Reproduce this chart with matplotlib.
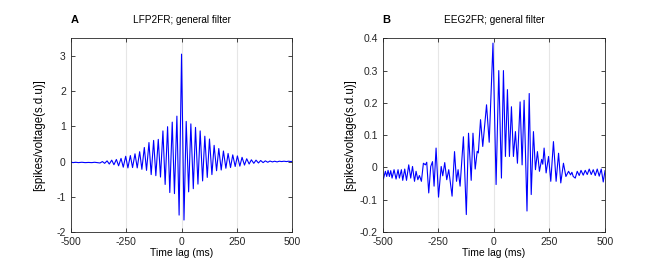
import numpy as np
import matplotlib
matplotlib.use('Agg')
import matplotlib.pyplot as plt

plt.rcParams['font.family'] = ['Liberation Sans', 'DejaVu Sans']
plt.rcParams['axes.unicode_minus'] = False

# ---- panel A: LFP2FR (extrema) ----
lfp_lag = [-500, -490, -478, -465, -450, -435, -420, -405, -392, -380,
           -368, -357, -347, -336, -326, -315, -305, -294, -284, -273, -263, -252,
           -242, -231, -221, -210, -200, -189, -179, -168, -158, -147, -137, -126,
           -116, -105, -95, -84, -74, -63, -53, -42, -32, -21, -11,
           0,
           11, 21, 32, 42, 53, 63, 74, 84, 95, 105, 116, 126, 137, 147, 158, 168,
           179, 189, 200, 210, 221, 231, 242, 252, 263, 273, 284, 294, 305, 315,
           326, 336, 347, 357, 368,
           378, 389, 399, 410, 420, 431, 441, 452, 462, 473, 483, 494, 500]
lfp_val = [-0.01, -0.03, -0.02, -0.03, -0.02, -0.03, -0.025, -0.03, -0.02, -0.03,
           -0.04, 0.0, -0.05, 0.02, -0.07, 0.04, -0.09, 0.06, -0.12, 0.09, -0.16, 0.15,
           -0.18, 0.17, -0.17, 0.22, -0.18, 0.28, -0.22, 0.40, -0.25, 0.54, -0.37, 0.60,
           -0.40, 0.63, -0.44, 0.87, -0.65, 0.99, -0.88, 1.12, -0.91, 1.29, -1.52,
           3.05,
           -1.66, 1.14, -0.86, 1.07, -0.77, 0.97, -0.64, 0.87, -0.55, 0.72, -0.45, 0.64,
           -0.37, 0.46, -0.26, 0.37, -0.24, 0.30, -0.19, 0.23, -0.17, 0.19, -0.14, 0.16,
           -0.13, 0.12, -0.10, 0.08, -0.07, 0.05, -0.05, 0.04, -0.04, 0.03, -0.03,
           0.02, -0.02, 0.015, -0.01, 0.01, -0.01, 0.01, 0.0, 0.01, 0.0, 0.01, 0.0, 0.01]

# ---- panel B: EEG2FR ----
eeg_lag = [-500, -497, -488, -482, -476, -470, -464, -458, -449, -440, -431, -425,
           -416, -410, -401, -393, -383, -374, -366, -357, -350, -342, -335, -326,
           -317, -308, -302, -293, -284, -276, -269, -260, -249, -237, -230, -221,
           -212, -203, -188, -177, -168, -161, -152, -137, -124, -114, -102, -94,
           -84, -75, -70, -60, -50, -33, -21, -4, 10, 22, 34, 43, 52, 61, 70, 79,
           88, 97, 106, 118, 127, 136, 149, 159, 168, 178, 187, 196, 205, 215, 220,
           226, 235, 246, 256, 268, 280, 291, 301, 313, 324, 336, 345, 351, 357,
           366, 375, 384, 392, 402, 411, 420, 429, 438, 447, 456, 465, 474, 483,
           492, 500]
eeg_val = [-0.030, -0.036, -0.012, -0.028, -0.009, -0.028, -0.010, -0.033, -0.007,
           -0.036, -0.007, -0.033, -0.007, -0.040, -0.005, -0.040, 0.008, -0.033,
           0.003, -0.043, -0.012, -0.038, -0.025, -0.043, 0.013, 0.008, 0.016,
           -0.079, 0.003, 0.018, -0.058, 0.060, -0.092, 0.003, -0.026, 0.015,
           -0.038, -0.007, -0.089, 0.049, -0.043, -0.007, -0.058, 0.095, -0.146,
           0.106, -0.040, 0.106, -0.005, 0.050, 0.045, 0.148, 0.065, 0.194, 0.078,
           0.385, -0.053, 0.300, -0.033, 0.300, 0.034, 0.241, 0.034, 0.188, 0.034,
           0.111, 0.013, 0.203, 0.008, 0.208, -0.135, 0.229, -0.084, 0.111, -0.007,
           0.049, -0.012, 0.025, 0.010, 0.060, -0.017, 0.034, -0.043, 0.080, -0.043,
           0.044, -0.048, 0.013, -0.028, -0.012, -0.023, -0.015, -0.028, -0.033,
           -0.012, -0.025, -0.009, -0.024, -0.009, -0.022, -0.005, -0.022, -0.007,
           -0.025, -0.005, -0.027, -0.005, -0.045, -0.010]

xticks = [-500, -250, 0, 250, 500]

fig = plt.figure(figsize=(6.5, 2.71), dpi=100)
axA = fig.add_axes([0.1088, 0.1439, 0.341, 0.7148])
axB = fig.add_axes([0.5888, 0.1439, 0.342, 0.7148])

panels = [(axA, lfp_lag, lfp_val, 'LFP2FR; general filter', (-2, 3.5), [-2, -1, 0, 1, 2, 3], 'A', 8),
          (axB, eeg_lag, eeg_val, 'EEG2FR; general filter', (-0.2, 0.4),
           [-0.2, -0.1, 0, 0.1, 0.2, 0.3, 0.4], 'B', 3)]

for ax, lag, val, title, ylim, yticks, letter, ypad in panels:
    ax.plot(lag, val, color=(0, 0, 1), lw=0.8)
    ax.set_xlim(-500, 500)
    ax.set_ylim(*ylim)
    ax.set_xticks(xticks)
    ax.set_yticks(yticks)
    ax.grid(axis='x', color='#e6e6e6', lw=0.8)
    ax.set_axisbelow(True)
    ax.tick_params(direction='in', length=3, width=0.6, labelsize=7.5,
                   top=True, right=True, colors='#262626')
    for s in ax.spines.values():
        s.set_linewidth(0.6)
        s.set_color('#262626')
    ax.set_title(title, fontsize=7.2, pad=11)
    ax.set_xlabel('Time lag (ms)', fontsize=7.5, labelpad=1)
    ax.set_ylabel('[spikes/voltage(s.d.u)]', fontsize=8.3, labelpad=ypad)
    ax.text(0.0, 1.07, letter, transform=ax.transAxes, fontsize=8,
            fontweight='bold', ha='left', va='bottom')

axB.set_yticklabels(['-0.2', '-0.1', '0', '0.1', '0.2', '0.3', '0.4'])

fig.savefig('out.png', dpi=100)
